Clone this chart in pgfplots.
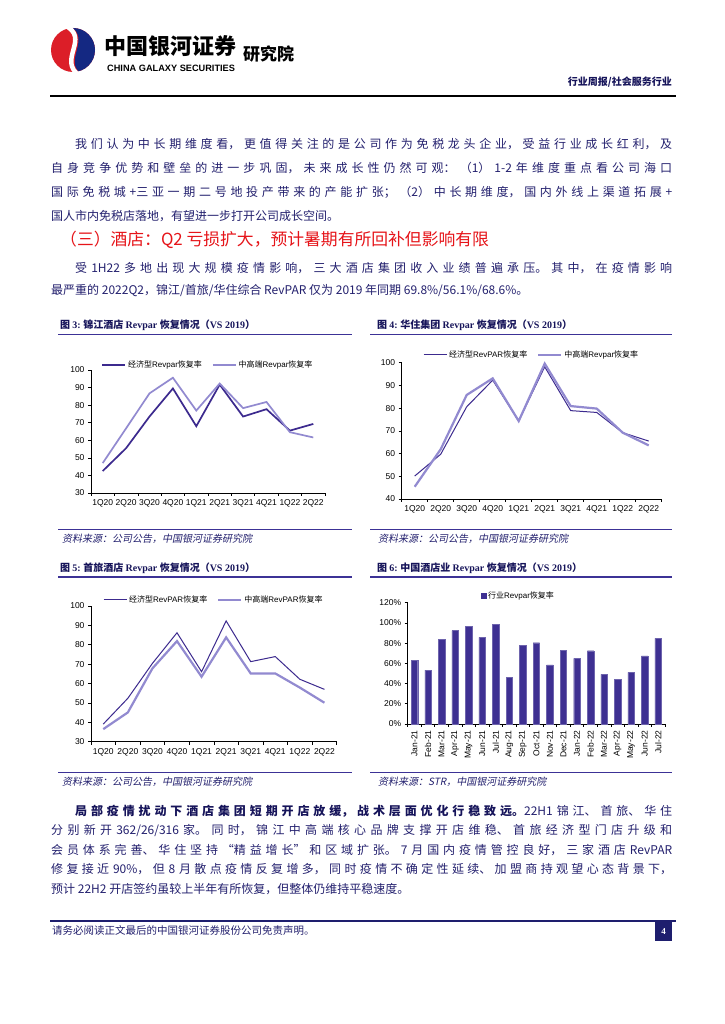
\documentclass[border=0pt]{standalone}
\usepackage{fontspec}
\usepackage{pgfplots}
\pgfplotsset{compat=1.18}
\setmainfont{Liberation Serif}
\newfontfamily\cjk{Noto Sans CJK SC}
\newfontfamily\cjkit[FakeSlant=0.2]{Noto Sans CJK SC}
\newfontfamily\lsans{Liberation Sans}
\newfontfamily\lserif{Liberation Serif}
\definecolor{bodyc}{RGB}{35,32,110}
\definecolor{titlec}{RGB}{22,20,90}
\definecolor{rulec}{RGB}{60,50,150}
\definecolor{darkl}{RGB}{60,42,142}
\definecolor{lightl}{RGB}{146,138,208}
\definecolor{barc}{RGB}{62,48,146}
\definecolor{headred}{RGB}{230,20,25}
\definecolor{logored}{RGB}{220,30,40}
\definecolor{logoblue}{RGB}{20,40,130}
\definecolor{footc}{RGB}{30,30,110}

\newcommand\para[2]{\parbox[t]{621pt}{\fontsize{12}{#1}\selectfont\cjk
  \XeTeXlinebreaklocale "zh"\XeTeXlinebreakskip=0pt plus 4pt\relax
  \tolerance=10000\hbadness=10000\relax
  \leavevmode\color{bodyc}\hspace*{24pt}#2}}
\newcommand\figtitle[2]{{\fontsize{10}{12}\selectfont\color{titlec}{\cjk\bfseries 图 }{\lserif\bfseries #1:\ }{\cjk\bfseries #2 }{\lserif\bfseries Revpar }{\cjk\bfseries 恢复情况（}{\lserif\bfseries VS 2019}{\cjk\bfseries ）}}}
\newcommand\source[1]{{\fontsize{10}{12}\selectfont\cjkit\color{bodyc}#1}}

\pgfplotsset{
  chart/.style={
    scale only axis, clip=false,
    axis lines*=left,
    axis line style={black, line width=0.6pt},
    tick align=outside,
    major tick length=3pt, minor tick length=3pt,
    tick style={black, line width=0.6pt},
    tick label style={font=\fontsize{8.5}{9}\selectfont\lsans, black},
    /pgf/number format/assume math mode=true,
    major x tick style={draw=none},
    legend style={draw=none, fill=none, at={(0.5,1)}, anchor=center, legend columns=2,
      font=\fontsize{8}{9}\selectfont, inner sep=0pt,
      /tikz/every even column/.append style={column sep=8pt}},
    legend cell align=left,
  },
  quarters/.style={xmin=-0.5, xmax=9.5, xtick={0,...,9},
    xticklabels={1Q20,2Q20,3Q20,4Q20,1Q21,2Q21,3Q21,4Q21,1Q22,2Q22},
    minor xtick={-0.5,0.5,...,9.5}},
  lineleg/.style={legend image code/.code={\draw[##1] (0pt,0pt) -- (23pt,0pt);}},
}

\begin{document}
\begin{tikzpicture}[x=1pt,y=1pt]
\path[use as bounding box, fill=white] (0,0) rectangle (724,1024);

% ---------- header ----------
\fill[logored] (73,974) circle (22);
\begin{scope}
\clip (73,974) circle (22);
\fill[logoblue] (70,998) .. controls (92,985) and (62,962) .. (82,950) -- (100,950) -- (100,1000) -- cycle;
\end{scope}
\draw[white, line width=4.5pt] (64,999) .. controls (92,986) and (56,964) .. (80,948);
\node[anchor=base west, inner sep=0pt] at (104,969) {\fontsize{22}{22}\selectfont\cjk\bfseries 中国银河证券};
\node[anchor=base west, inner sep=0pt] at (107,952) {\fontsize{9.2}{10}\selectfont\lsans\bfseries CHINA GALAXY SECURITIES};
\node[anchor=base west, inner sep=0pt] at (243,963) {\fontsize{17}{17}\selectfont\cjk\bfseries 研究院};
\node[anchor=base east, inner sep=0pt] at (672,938) {\fontsize{10}{12}\selectfont\cjk\bfseries\color{titlec}行业周报/社会服务行业};
\draw[black, line width=1.5pt] (50,928) -- (676,928);

% ---------- paragraph 1 ----------
\node[anchor=base west, inner sep=0pt] at (51,875.5) {\para{24pt}{我们认为中长期维度看，更值得关注的是公司作为免税龙头企业，受益行业成长红利，及\linebreak
自身竞争优势和壁垒的进一步巩固，未来成长性仍然可观：（1）1-2 年维度重点看公司海口\linebreak
国际免税城+三亚一期二号地投产带来的产能扩张；（2）中长期维度，国内外线上渠道拓展+\linebreak
国人市内免税店落地，有望进一步打开公司成长空间。}};

\node[anchor=base west, inner sep=0pt] at (60,778) {\fontsize{16.8}{18}\selectfont\cjk\color{headred}（三）酒店：Q2 亏损扩大，预计暑期有所回补但影响有限};

\node[anchor=base west, inner sep=0pt] at (51,751.5) {\para{22pt}{受 1H22 多地出现大规模疫情影响，三大酒店集团收入业绩普遍承压。其中，在疫情影响\linebreak
最严重的 2022Q2，锦江/首旅/华住综合 RevPAR 仅为 2019 年同期 69.8\%/56.1\%/68.6\%。}};

% ---------- figure titles and rules ----------
\node[anchor=base west, inner sep=0pt] at (60,695) {\figtitle{3}{锦江酒店}};
\node[anchor=base west, inner sep=0pt] at (377,695) {\figtitle{4}{华住集团}};
\draw[rulec, line width=1.5pt] (58,689.5) -- (352,689.5);
\draw[rulec, line width=1.5pt] (370,689.5) -- (672,689.5);
\draw[rulec, line width=1.2pt] (58,494.5) -- (352,494.5);
\draw[rulec, line width=1.2pt] (370,494.5) -- (672,494.5);
\node[anchor=base west, inner sep=0pt] at (62,481) {\source{资料来源：公司公告，中国银河证券研究院}};
\node[anchor=base west, inner sep=0pt] at (378,481) {\source{资料来源：公司公告，中国银河证券研究院}};

\node[anchor=base west, inner sep=0pt] at (60,452.5) {\figtitle{5}{首旅酒店}};
\node[anchor=base west, inner sep=0pt] at (377,452.5) {{\fontsize{10}{12}\selectfont\color{titlec}{\cjk\bfseries 图 }{\lserif\bfseries 6:\ }{\cjk\bfseries 中国酒店业 }{\lserif\bfseries Revpar }{\cjk\bfseries 恢复情况（}{\lserif\bfseries VS 2019}{\cjk\bfseries ）}}};
\draw[rulec, line width=1.5pt] (58,447) -- (352,447);
\draw[rulec, line width=1.5pt] (370,447) -- (672,447);
\draw[rulec, line width=1.2pt] (58,251.7) -- (352,251.7);
\draw[rulec, line width=1.2pt] (370,251.7) -- (672,251.7);
\node[anchor=base west, inner sep=0pt] at (62,238) {\source{资料来源：公司公告，中国银河证券研究院}};
\node[anchor=base west, inner sep=0pt] at (378,238) {\source{资料来源：STR，中国银河证券研究院}};

% ---------- chart 3 ----------
\begin{axis}[chart, quarters, lineleg, at={(91pt,531pt)}, anchor=south west,
  width=234pt, height=123pt, ymin=30, ymax=100, ytick={30,40,...,100},
  legend style={yshift=5pt}]
\addplot[darkl, line width=1.7pt] coordinates {(0,42.5)(1,55.5)(2,73.5)(3,89.5)(4,68)(5,91.7)(6,73.5)(7,77.7)(8,65.5)(9,69.3)};
\addlegendentry{{\cjk 经济型}{\lsans Revpar}{\cjk 恢复率}}
\addplot[lightl, line width=1.7pt] coordinates {(0,47)(1,66.8)(2,86.7)(3,95.6)(4,76.9)(5,92.3)(6,78.3)(7,81.8)(8,64.6)(9,61.6)};
\addlegendentry{{\cjk 中高端}{\lsans Revpar}{\cjk 恢复率}}
\end{axis}

% ---------- chart 4 ----------
\begin{axis}[chart, quarters, lineleg, at={(401.7pt,525pt)}, anchor=south west,
  width=260pt, height=136.3pt, ymin=40, ymax=100, ytick={40,50,...,100},
  legend style={yshift=7.7pt}]
\addplot[darkl, line width=1pt] coordinates {(0,50.1)(1,59.7)(2,80.6)(3,92.3)(4,74.3)(5,98.2)(6,78.9)(7,78.1)(8,69.2)(9,65.5)};
\addlegendentry{{\cjk 经济型}{\lsans RevPAR}{\cjk 恢复率}}
\addplot[lightl, line width=2.2pt] coordinates {(0,45.4)(1,61.9)(2,85.8)(3,93.1)(4,74.3)(5,99.6)(6,80.9)(7,79.8)(8,69.2)(9,63.6)};
\addlegendentry{{\cjk 中高端}{\lsans Revpar}{\cjk 恢复率}}
\end{axis}

% ---------- chart 5 ----------
\begin{axis}[chart, quarters, lineleg, at={(91pt,282.3pt)}, anchor=south west,
  width=245.7pt, height=135.7pt, ymin=30, ymax=100, ytick={30,40,...,100},
  legend style={yshift=6pt}]
\addplot[darkl, line width=1pt] coordinates {(0,39.1)(1,52.4)(2,70.4)(3,86.2)(4,66.1)(5,92.3)(6,71.3)(7,73.9)(8,62.2)(9,57)};
\addlegendentry{{\cjk 经济型}{\lsans RevPAR}{\cjk 恢复率}}
\addplot[lightl, line width=2.2pt] coordinates {(0,36.5)(1,45.1)(2,67.8)(3,81.9)(4,63.5)(5,83.8)(6,65.2)(7,65.2)(8,57.9)(9,50.1)};
\addlegendentry{{\cjk 中高端}{\lsans RevPAR}{\cjk 恢复率}}
\end{axis}

% ---------- chart 6 ----------
\begin{axis}[chart, at={(407.7pt,300pt)}, anchor=south west,
  width=257.3pt, height=121.3pt, ymin=0, ymax=120, ytick={0,20,...,120},
  yticklabel={\pgfmathprintnumber{\tick}\%},
  xmin=-0.5, xmax=18.5, xtick={0,...,18}, minor xtick={-0.5,0.5,...,18.5},
  xticklabels={Jan-21,Feb-21,Mar-21,Apr-21,May-21,Jun-21,Jul-21,Aug-21,Sep-21,Oct-21,Nov-21,Dec-21,Jan-22,Feb-22,Mar-22,Apr-22,May-22,Jun-22,Jul-22},
  xticklabel style={rotate=90, anchor=east},
  legend style={at={(0.43,1)}, yshift=7pt},
  legend image code/.code={\fill[barc] (0pt,-2.5pt) rectangle (5pt,2.5pt);}]
\addplot[ybar, bar width=6.5pt, fill=barc, draw=barc!75!white, line width=0.4pt] coordinates {(0,63)(1,53.4)(2,83.7)(3,92.3)(4,96.9)(5,85.7)(6,98.9)(7,46.2)(8,78.1)(9,80.4)(10,58.4)(11,73.2)(12,65)(13,72.5)(14,49.1)(15,44.5)(16,51.1)(17,67.3)(18,84.7)};
\addlegendentry{{\cjk 行业}{\lsans Revpar}{\cjk 恢复率}}
\end{axis}

% ---------- bottom paragraph ----------
\node[anchor=base west, inner sep=0pt] at (51,208.5) {\para{19.5pt}{{\bfseries\color{titlec}局部疫情扰动下酒店集团短期开店放缓，战术层面优化行稳致远。}22H1 锦江、首旅、华住\linebreak
分别新开 362/26/316 家。同时，锦江中高端核心品牌支撑开店维稳、首旅经济型门店升级和\linebreak
会员体系完善、华住坚持“精益增长”和区域扩张。7 月国内疫情管控良好，三家酒店 RevPAR\linebreak
修复接近 90\%，但 8 月散点疫情反复增多，同时疫情不确定性延续、加盟商持观望心态背景下，\linebreak
预计 22H2 开店签约虽较上半年有所恢复，但整体仍维持平稳速度。}};

% ---------- footer ----------
\draw[footc, line width=1.5pt] (50,103) -- (676,103);
\node[anchor=base west, inner sep=0pt] at (52,89) {\fontsize{10.5}{12}\selectfont\cjk\color{bodyc}请务必阅读正文最后的中国银河证券股份公司免责声明。};
\fill[footc] (655,83) rectangle (672,102);
\node[text=white, inner sep=0pt] at (663.5,92.5) {\fontsize{9}{10}\selectfont\lserif\bfseries 4};
\end{tikzpicture}
\end{document}
